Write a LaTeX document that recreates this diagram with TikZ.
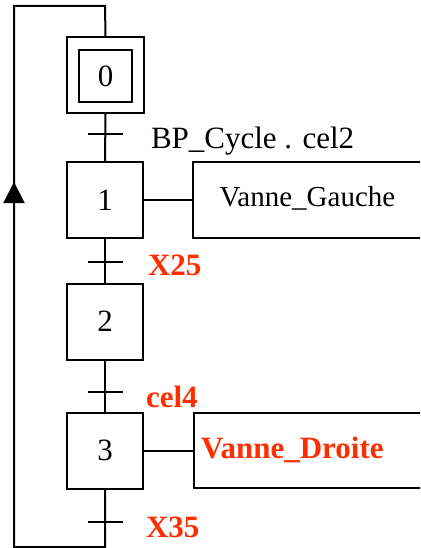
\documentclass[tikz,border=0pt]{standalone}
\usepackage{fontspec}
\setmainfont{Liberation Serif}
\usetikzlibrary{arrows.meta}
\definecolor{lblred}{RGB}{255,45,0}
\begin{document}
\begin{tikzpicture}[x=1pt,y=-1pt,line width=2pt,
 stepbox/.style={draw,minimum width=76pt,minimum height=76pt,inner sep=0pt,font=\fontsize{31}{34}\selectfont},
 innerbox/.style={draw,minimum width=53pt,minimum height=52pt,inner sep=0pt,font=\fontsize{31}{34}\selectfont},
 actbox/.style={draw,minimum width=229pt,minimum height=75pt,inner sep=0pt},
 txt/.style={inner sep=0pt,font=\fontsize{29}{32}\selectfont},
 cond/.style={inner sep=0pt,text=lblred,font=\fontsize{31}{34}\selectfont\bfseries}]
\useasboundingbox (0,0) rectangle (420,548);
\clip (0,0) rectangle (420,548);
% steps
\node[stepbox,minimum width=77pt] (s0) at (105.5,75) {};
\node[innerbox] (s0in) at (105.5,76) {0};
\node[stepbox] (s1) at (105,200) {1};
\node[stepbox] (s2) at (105,321.5) {2};
\node[stepbox] (s3) at (105,450.5) {3};
% actions
\node[actbox] (a1) at (307.5,200) {};
\node[actbox] (a2) at (308.5,450.5) {};
\node[txt,anchor=base] (a1t) at (307.5,206) {Vanne\_Gauche};
\node[cond,anchor=base west] (a2t) at (200,458) {Vanne\_Droite};
\draw (s1.east) -- (a1.west);
\draw (s3.east) -- (a2.west);
% transitions
\coordinate (t1) at (105.5,134);
\coordinate (t2) at (105.5,262);
\coordinate (t3) at (105.5,392);
\coordinate (t4) at (105.5,522);
\coordinate (bl) at (105,547);
\coordinate (cbl) at (14,547);
\coordinate (ctl) at (14,6);
\coordinate (ctr) at (105,6);
\coordinate (ar) at (14,182);
\coordinate (ab) at (14,300);
\draw (s0.south) -- (s1.north);
\draw (s1.south) -- (s2.north);
\draw (s2.south) -- (s3.north);
\draw (s3.south) -- (bl) -- (cbl) -- (ctl) -- (ctr) -- (s0.north);
\draw[-{Triangle[length=21pt,width=21pt]}] (ab) -- (ar);
\foreach \t in {t1,t2,t3,t4}
  \draw ([xshift=-17.5pt]\t) -- ([xshift=17.5pt]\t);
% receptivities
\node[txt,font=\fontsize{31}{34}\selectfont,anchor=base west] (r1) at (150,149) {BP\_Cycle . cel2};
\node[cond,anchor=base west] (r2) at (147,275) {X25};
\node[cond,anchor=base west] (r3) at (145,407) {cel4};
\node[cond,anchor=base west] (r4) at (145,537) {X35};
\end{tikzpicture}
\end{document}
